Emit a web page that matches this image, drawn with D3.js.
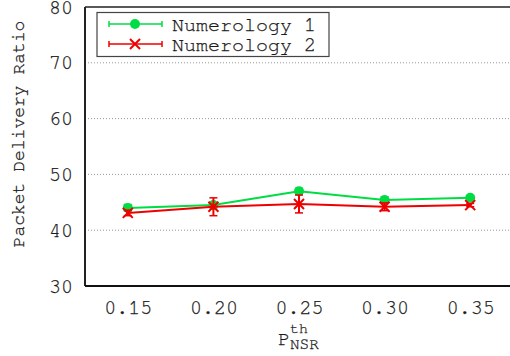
<!DOCTYPE html>
<html><head><meta charset="utf-8">
<script src="https://cdn.jsdelivr.net/npm/d3@7"></script>
<style>body{margin:0;background:#fff}svg{display:block}</style>
</head><body><svg id="c" width="510" height="356"></svg>
<script>
const categories = [0.15, 0.20, 0.25, 0.30, 0.35];
const tickLabels = ["0.15", "0.20", "0.25", "0.30", "0.35"];
const yTicks = [30, 40, 50, 60, 70, 80];
const num1 = [44.0, 44.5, 47.0, 45.4, 45.8];
const num1Err = [0.6, 0.5, 0.5, 0.6, 0.3];
const num2 = [43.1, 44.2, 44.7, 44.2, 44.5];
const num2Err = [0.5, 1.6, 1.6, 0.7, 0.3];
const seriesNames = ["Numerology 1", "Numerology 2"];

const FF = '"FreeMono", "Courier New", monospace';
const FS = 20;
const TXT = "#1a1a1a";
function font(sel, size) {
  sel.style("font-family", FF).style("font-size", size + "px").attr("fill", TXT)
     .attr("stroke", TXT).attr("stroke-width", 0.25);
  return sel;
}
const svg = d3.select("#c");
const L = 85, R = 513, T = 7, B = 286;
const x = d3.scaleLinear().domain([0.125, 0.375]).range([L, R]);
const y = d3.scaleLinear().domain([30, 80]).range([B, T]);

// grid
svg.append("g").selectAll("line").data(yTicks.filter(d => d > 30 && d < 80)).join("line")
  .attr("x1", L).attr("x2", 510).attr("y1", d => y(d)).attr("y2", d => y(d))
  .attr("stroke", "#999").attr("stroke-width", 1).attr("stroke-dasharray", "1,2");

// axes
const ya = svg.append("g").attr("transform", `translate(${L},0)`)
  .call(d3.axisLeft(y).tickValues(yTicks).tickSize(0).tickPadding(12));
ya.select(".domain").remove();
font(ya.selectAll("text"), FS).attr("dy", "0.3em");
const xa = svg.append("g").attr("transform", `translate(0,${B})`)
  .call(d3.axisBottom(x).tickValues(categories).tickFormat((d, i) => tickLabels[i]).tickSize(0).tickPadding(14));
xa.select(".domain").remove();
font(xa.selectAll("text"), FS);

// frame
svg.append("line").attr("x1", L).attr("x2", 510).attr("y1", T).attr("y2", T).attr("stroke", "#222").attr("stroke-width", 1.5);
svg.append("line").attr("x1", L).attr("x2", L).attr("y1", T).attr("y2", B).attr("stroke", "#222").attr("stroke-width", 2);
svg.append("line").attr("x1", L).attr("x2", 510).attr("y1", B).attr("y2", B).attr("stroke", "#111").attr("stroke-width", 2);

const green = "#00dd44", red = "#ee0000";
function drawSeries(vals, errs, color, marker) {
  const g = svg.append("g");
  const line = d3.line().x((d, i) => x(categories[i])).y(d => y(d));
  g.append("path").datum(vals).attr("d", line).attr("fill", "none").attr("stroke", color).attr("stroke-width", 2);
  vals.forEach((v, i) => {
    const cx = x(categories[i]);
    g.append("line").attr("x1", cx).attr("x2", cx).attr("y1", y(v - errs[i])).attr("y2", y(v + errs[i])).attr("stroke", color).attr("stroke-width", 2);
    [v - errs[i], v + errs[i]].forEach(e => g.append("line").attr("x1", cx - 4).attr("x2", cx + 4).attr("y1", y(e)).attr("y2", y(e)).attr("stroke", color).attr("stroke-width", 1.5));
    drawMarker(g, cx, y(v), color, marker);
  });
}
function drawMarker(g, cx, cy, color, marker) {
  if (marker === "circle") g.append("circle").attr("cx", cx).attr("cy", cy).attr("r", 5).attr("fill", color);
  else {
    const s = 5;
    g.append("path").attr("d", `M${cx - s},${cy - s}L${cx + s},${cy + s}M${cx - s},${cy + s}L${cx + s},${cy - s}`).attr("stroke", color).attr("stroke-width", 2);
  }
}
drawSeries(num1, num1Err, green, "circle");
drawSeries(num2, num2Err, red, "x");

// legend
const lg = svg.append("g");
lg.append("rect").attr("x", 97).attr("y", 12.5).attr("width", 232).attr("height", 44).attr("fill", "#fff").attr("stroke", "#444").attr("stroke-width", 1.2);
[[green, "circle"], [red, "x"]].forEach(([c, m], i) => {
  const yy = 24 + i * 20;
  lg.append("line").attr("x1", 109).attr("x2", 162).attr("y1", yy).attr("y2", yy).attr("stroke", c).attr("stroke-width", 1.5);
  [109, 162].forEach(xx => lg.append("line").attr("x1", xx).attr("x2", xx).attr("y1", yy - 3).attr("y2", yy + 3).attr("stroke", c).attr("stroke-width", 1.5));
  drawMarker(lg, 135, yy, c, m);
  font(lg.append("text").attr("x", 172).attr("y", yy + 7), FS).text(seriesNames[i]);
});

// axis titles
font(svg.append("text").attr("transform", "translate(24,134) rotate(-90)").attr("text-anchor", "middle"), 18).text("Packet Delivery Ratio");
font(svg.append("text").attr("x", 278).attr("y", 345), FS).text("P");
font(svg.append("text").attr("x", 290).attr("y", 333), 15).text("th");
font(svg.append("text").attr("x", 290).attr("y", 349), 16).text("NSR");
</script></body></html>
